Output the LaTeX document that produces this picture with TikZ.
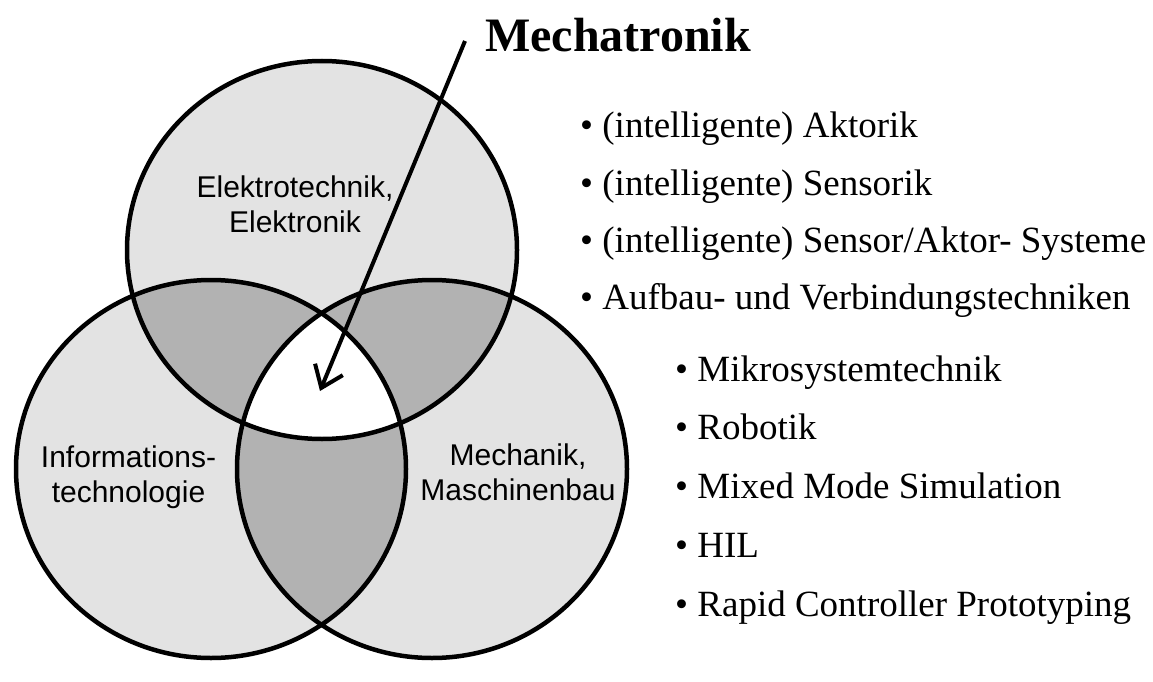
\documentclass[tikz,border=0pt]{standalone}
\usepackage{fontspec}
\setmainfont{Liberation Serif}
\setsansfont{Liberation Sans}
\usetikzlibrary{arrows.meta}

\definecolor{ringfill}{gray}{0.89}
\definecolor{pairfill}{gray}{0.70}

% the three overlapping domains
\def\ringElek{(322,250) ellipse [x radius=195pt, y radius=189pt]}
\def\ringInfo{(211,469) ellipse [x radius=195pt, y radius=189pt]}
\def\ringMech{(432,469) ellipse [x radius=195pt, y radius=189pt]}

\begin{document}
\begin{tikzpicture}[x=1pt, y=-1pt,
  ringline/.style={line width=4.5pt, draw=black},
  area/.style={font=\sffamily\fontsize{30}{35}\selectfont, align=center, inner sep=0pt},
  headline/.style={font=\bfseries\fontsize{48}{56}\selectfont, anchor=base west, inner sep=0pt},
  listitem/.style={font=\fontsize{37}{44}\selectfont, anchor=base west, inner sep=0pt},
  pointer/.style={line width=4pt, -{Straight Barb[length=20pt, width=30pt]}}]

\fill[white] (0,0) rectangle (1153,682);
\useasboundingbox (0,0) rectangle (1153,682);

% base fill of each domain
\fill[ringfill] \ringElek;
\fill[ringfill] \ringInfo;
\fill[ringfill] \ringMech;

% pairwise overlaps
\begin{scope}
  \clip \ringElek;
  \fill[pairfill] \ringInfo;
  \fill[pairfill] \ringMech;
\end{scope}
\begin{scope}
  \clip \ringInfo;
  \fill[pairfill] \ringMech;
\end{scope}

% common core
\begin{scope}
  \clip \ringElek;
  \clip \ringInfo;
  \fill[white] \ringMech;
\end{scope}

% outlines
\draw[ringline] \ringElek;
\draw[ringline] \ringInfo;
\draw[ringline] \ringMech;

% domain labels
\node[area] (elek) at (295,204.5) {Elektrotechnik,\\Elektronik};
\node[area] (info) at (128.5,477.5) {Informations-\\technologie};
\node[area] (mech) at (518,472.5) {Mechanik,\\Maschinenbau};

% title and pointer into the core
\node[headline] (title) at (485,52) {Mechatronik};
\coordinate (pointstart) at (465,41);
\coordinate (core) at (320,391);
\draw[pointer] (pointstart) -- (core);

% topics
\node[listitem] (i1) at (580,138) {\textbullet\ (intelligente) Aktorik};
\node[listitem] (i2) at (580,195) {\textbullet\ (intelligente) Sensorik};
\node[listitem] (i3) at (580,252) {\textbullet\ (intelligente) Sensor/Aktor- Systeme};
\node[listitem] (i4) at (580,309) {\textbullet\ Aufbau- und Verbindungstechniken};

\node[listitem] (j1) at (675,381) {\textbullet\ Mikrosystemtechnik};
\node[listitem] (j2) at (675,439) {\textbullet\ Robotik};
\node[listitem] (j3) at (675,498) {\textbullet\ Mixed Mode Simulation};
\node[listitem] (j4) at (675,557) {\textbullet\ HIL};
\node[listitem] (j5) at (675,616) {\textbullet\ Rapid Controller Prototyping};

\end{tikzpicture}
\end{document}
